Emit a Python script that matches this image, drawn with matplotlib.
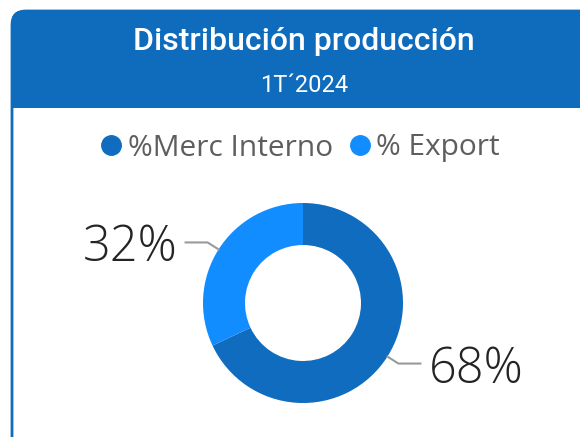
import matplotlib.pyplot as plt
from matplotlib.patches import FancyBboxPatch, Rectangle
from matplotlib.lines import Line2D
import numpy as np

# data
labels = ["%Merc Interno", "% Export"]
values = [68, 32]
colors = ["#0F6CBF", "#118DFF"]
title = "Distribución producción"
subtitle = "1T´2024"

W, H = 580, 437
fig = plt.figure(figsize=(W / 100, H / 100), dpi=100)

# background axes in pixel coordinates for the card
bg = fig.add_axes([0, 0, 1, 1])
bg.set_xlim(0, W)
bg.set_ylim(H, 0)
bg.axis("off")

blue = "#0F6CBD"
card = FancyBboxPatch((12, 11), 600, 440, boxstyle="round,pad=0,rounding_size=14",
                      fc="white", ec=blue, lw=2)
bg.add_patch(card)
header = FancyBboxPatch((11, 10), 600, 60, boxstyle="round,pad=0,rounding_size=14",
                        fc=blue, ec="none")
bg.add_patch(header)
bg.add_patch(Rectangle((11, 40), 600, 68, fc=blue, ec="none"))

bg.text(304, 41, title, color="white", fontsize=23, family="Roboto",
        fontweight="medium", ha="center", va="center")
bg.text(304, 85, subtitle, color="white", fontsize=17, family="Roboto",
        ha="center", va="center")

# donut
cx, cy, r = 303, 303, 100
ax = fig.add_axes([(cx - 1.1 * r) / W, (H - cy - 1.1 * r) / H, 2.2 * r / W, 2.2 * r / H])
wedges, _ = ax.pie(values, colors=colors, startangle=90, counterclock=False,
                   wedgeprops=dict(width=0.42, edgecolor="none"))
ax.set_xlim(-1.1, 1.1)
ax.set_ylim(-1.1, 1.1)
ax.set_aspect("equal")

total = sum(values)
for w, v in zip(wedges, values):
    ang = np.deg2rad((w.theta1 + w.theta2) / 2)
    x, y = np.cos(ang), np.sin(ang)
    s = np.sign(x)
    ex, ey = 1.13 * x, 1.13 * y
    ax.plot([1.0 * x, ex, ex + s * 0.22], [1.0 * y, ey, ey], color="#9a9a9a",
            lw=1.5, clip_on=False)
    ax.text(ex + s * 0.3, ey - 0.06, f"{round(v / total * 100)}%", fontsize=35,
            family="Open Sans", fontweight="light", color="#252423",
            ha="left" if s > 0 else "right", va="center")

handles = [Line2D([], [], marker="o", ls="none", color=c, markersize=14) for c in colors]
fig.legend(handles, labels, loc="center", bbox_to_anchor=(298 / W, (H - 148) / H),
           ncol=2, frameon=False, labelcolor="#605E5C",
           handletextpad=0.05, columnspacing=0.4, handlelength=1.0,
           prop={"family": "Open Sans", "size": 21.5})

fig.savefig("out.png", dpi=100)
